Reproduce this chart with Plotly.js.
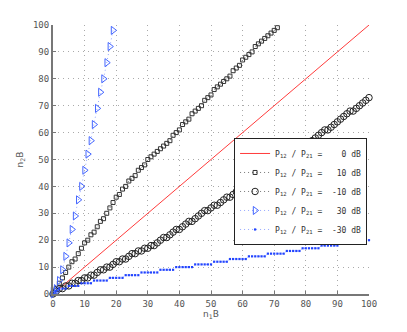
<!DOCTYPE html>
<html>
<head>
<meta charset="utf-8">
<script src="https://cdn.plot.ly/plotly-3.0.1.min.js"></script>
<style>
  html, body { margin: 0; padding: 0; background: #fff; }
  #chart { width: 407px; height: 332px; }
</style>
</head>
<body>
<div id="chart"></div>
<script>
// ratio 0 dB: straight line
const x0dB = [0, 100];
const y0dB = [0, 100];

// ratio +10 dB (squares)
const x10dB = [0,1,2,3,4,5,6,7,8,9,10,11,12,13,14,15,16,17,18,19,20,21,22,23,24,25,26,27,28,29,30,31,32,33,34,35,36,37,38,39,40,41,42,43,44,45,46,47,48,49,50,51,52,53,54,55,56,57,58,59,60,61,62,63,64,65,66,67,68,69,70,71];
const y10dB = [0,2,4,6,8,10,12,13,15,17,19,20,22,23,25,27,28,30,32,34,36,37,39,40,42,43,44,46,47,48,50,51,52,53,54,55,56,57,59,60,61,63,64,65,67,68,69,70,72,73,74,76,77,78,79,80,81,83,84,85,87,88,89,90,92,93,94,95,96,97,98,99];

// ratio -10 dB (circles)
const xm10dB = [0,1,2,3,4,5,6,7,8,9,10,11,12,13,14,15,16,17,18,19,20,21,22,23,24,25,26,27,28,29,30,31,32,33,34,35,36,37,38,39,40,41,42,43,44,45,46,47,48,49,50,51,52,53,54,55,56,57,58,59,60,61,62,63,64,65,66,67,68,69,70,71,72,73,74,75,76,77,78,79,80,81,82,83,84,85,86,87,88,89,90,91,92,93,94,95,96,97,98,99,100];
const ym10dB = [0,1,2,2,3,3,4,4,5,5,6,6,7,7,8,9,9,10,10,11,12,12,13,13,14,15,15,16,16,17,17,18,18,19,20,21,21,22,23,24,24,25,26,27,27,28,29,30,31,31,32,33,33,34,35,36,36,37,38,39,39,40,41,42,43,43,44,45,46,47,47,48,49,50,51,51,52,53,54,55,56,56,57,58,59,60,61,61,62,63,64,65,66,67,68,68,69,70,71,72,73];

// ratio +30 dB (triangles)
const x30dB = [0,0,1,1,2,3,4,5,6,7,8,9,10,11,12,13,14,15,16,17,18,19];
const y30dB = [0,1,1,2,5,9,14,19,24,29,35,40,46,52,57,63,69,75,80,86,92,98];

// ratio -30 dB (dots)
const xm30dB = [0,1,2,3,4,5,6,7,8,9,10,11,12,13,14,15,16,17,18,19,20,21,22,23,24,25,26,27,28,29,30,31,32,33,34,35,36,37,38,39,40,41,42,43,44,45,46,47,48,49,50,51,52,53,54,55,56,57,58,59,60,61,62,63,64,65,66,67,68,69,70,71,72,73,74,75,76,77,78,79,80,81,82,83,84,85,86,87,88,89,90,91,92,93,94,95,96,97,98,99,100];
const ym30dB = [0,1,2,2,2,3,3,3,3,4,4,4,4,5,5,5,5,5,6,6,6,6,6,7,7,7,7,7,8,8,8,8,8,8,9,9,9,9,9,10,10,10,10,10,10,11,11,11,11,11,11,12,12,12,12,12,13,13,13,13,13,13,14,14,14,14,14,14,15,15,15,15,15,15,16,16,16,16,16,17,17,17,17,17,17,18,18,18,18,18,18,19,19,19,19,19,19,20,20,20,20];

const sp = "\u00a0";
function label(v) {
  return "P<sub>12</sub>" + sp + "/" + sp + "P<sub>21</sub>" + sp + "=" + sp + v + sp + "dB";
}

const traces = [
  {
    x: x0dB, y: y0dB, mode: "lines", name: label(sp + sp + sp + "0"),
    line: { color: "#ff3b3b", width: 1 }, cliponaxis: false
  },
  {
    x: x10dB, y: y10dB, mode: "lines+markers", name: label(sp + sp + "10"),
    line: { color: "#555", width: 0.8, dash: "1px,3px" },
    marker: { symbol: "square-open", size: 4, color: "#333", line: { width: 1 } },
    cliponaxis: false
  },
  {
    x: xm10dB, y: ym10dB, mode: "lines+markers", name: label(sp + "-10"),
    line: { color: "#555", width: 0.8, dash: "1px,3px" },
    marker: { symbol: "circle-open", size: 6.5, color: "#222", line: { width: 1 } },
    cliponaxis: false
  },
  {
    x: x30dB, y: y30dB, mode: "lines+markers", name: label(sp + sp + "30"),
    line: { color: "#7a90ff", width: 0.8, dash: "1px,3px" },
    marker: { symbol: "triangle-right-open", size: 7, color: "#4466ff", line: { width: 1 } },
    cliponaxis: false
  },
  {
    x: xm30dB, y: ym30dB, mode: "lines+markers", name: label(sp + "-30"),
    line: { color: "#7a90ff", width: 0.8, dash: "1px,3px" },
    marker: { symbol: "square", size: 2.2, color: "#2244ff" },
    cliponaxis: false
  }
];

const axisCommon = {
  range: [0, 100],
  dtick: 10,
  showgrid: true,
  gridcolor: "#aaa",
  griddash: "1px,4px",
  gridwidth: 1,
  zeroline: false,
  showline: true,
  linecolor: "#777",
  linewidth: 2,
  ticks: "inside",
  ticklen: 3,
  tickcolor: "#777",
  tickfont: { family: "DejaVu Sans Mono", size: 9, color: "#555" },
  fixedrange: true
};

const layout = {
  width: 407,
  height: 332,
  margin: { l: 53, r: 38, t: 25, b: 38 },
  paper_bgcolor: "#fff",
  plot_bgcolor: "#fff",
  showlegend: true,
  xaxis: Object.assign({}, axisCommon, {
    title: { text: "n<sub>1</sub>B", font: { family: "DejaVu Sans", size: 9, color: "#555" }, standoff: 2 }
  }),
  yaxis: Object.assign({}, axisCommon, {
    title: { text: "n<sub>2</sub>B", font: { family: "DejaVu Sans", size: 9, color: "#555" }, standoff: 8 }
  }),
  legend: {
    x: 0.573, y: 0.58, xanchor: "left", yanchor: "top",
    bgcolor: "#fff", bordercolor: "#222", borderwidth: 1,
    font: { family: "DejaVu Sans Mono", size: 8, color: "#333" },
    itemwidth: 30,
    tracegroupgap: 0
  }
};

Plotly.newPlot("chart", traces, layout, { displayModeBar: false, staticPlot: true });
</script>
</body>
</html>
